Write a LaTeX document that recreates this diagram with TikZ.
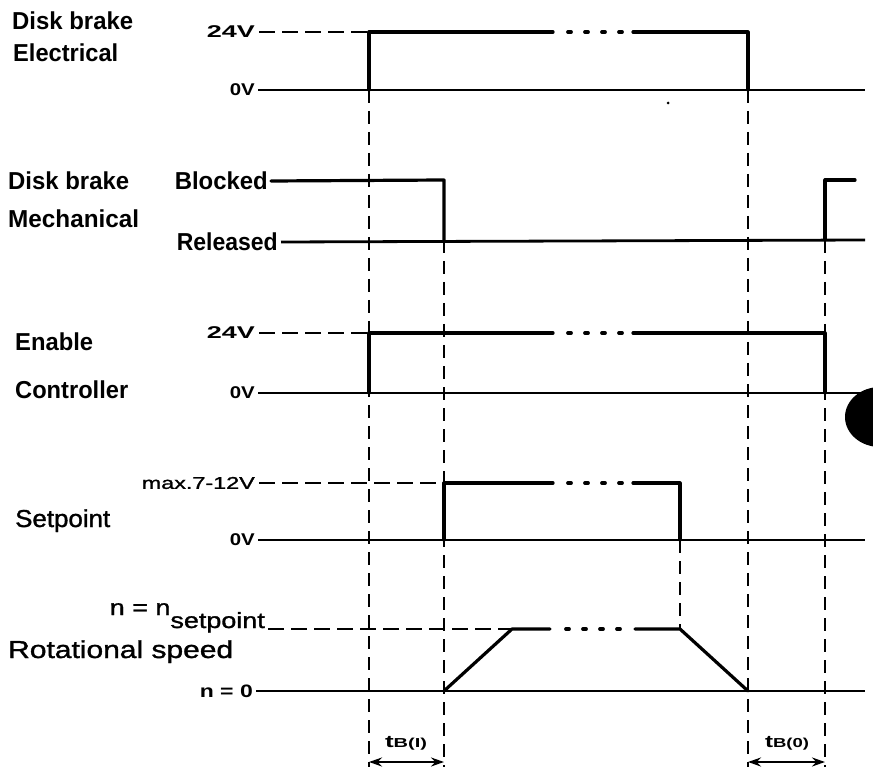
\documentclass[tikz,border=0pt]{standalone}
\usepackage{fontspec}
\setmainfont{Liberation Sans}
\newfontfamily\medfont{Liberation Sans}[FakeBold=1.2]
\usepackage{graphicx}
\usetikzlibrary{arrows.meta}
\newcommand\fitw[2]{\resizebox{#1}{\height}{#2}}
\begin{document}
\begin{tikzpicture}[x=1pt,y=-1pt,
  lab/.style={inner sep=0pt, font=\fontsize{24.5}{24.5}\selectfont\bfseries},
  labr/.style={inner sep=0pt, font=\fontsize{24.5}{24.5}\medfont},
  ax/.style={inner sep=0pt, font=\fontsize{17}{17}\selectfont\bfseries},
  axr/.style={inner sep=0pt, font=\fontsize{17}{17}\medfont},
  sig/.style={line width=3.2pt, line cap=round, line join=round},
  base/.style={line width=2.8pt},
  vdash/.style={line width=2.8pt, dash pattern=on 13pt off 8pt},
  hdash/.style={line width=2.8pt, dash pattern=on 16pt off 7pt},
  dotsl/.style={line width=3.8pt, dash pattern=on 3pt off 14pt, line cap=round},
  dim/.style={line width=2.6pt, {Stealth[length=13pt,width=9pt]}-{Stealth[length=13pt,width=9pt]}},
  tb/.style={inner sep=0pt, font=\bfseries},
]
\fill[white] (0,0) rectangle (873,767);
\useasboundingbox (0,0) rectangle (873,767);

% left labels
\node[lab, anchor=base west] (db1) at (12,30) {\fitw{121pt}{Disk brake}};
\node[lab, anchor=base west] (el) at (13,62) {\fitw{105pt}{Electrical}};
\node[lab, anchor=base west] (db2) at (8,190) {\fitw{121pt}{Disk brake}};
\node[lab, anchor=base west] (me) at (8,228) {\fitw{131pt}{Mechanical}};
\node[lab, anchor=base west] (en) at (15,350) {\fitw{78pt}{Enable}};
\node[lab, anchor=base west] (co) at (15,398) {\fitw{113pt}{Controller}};
\node[labr, anchor=base west] (sp) at (15,527) {\fitw{95pt}{Setpoint}};
\node[labr, anchor=base west] (rs) at (8,658) {\fitw{225pt}{Rotational speed}};

% level labels
\node[ax, anchor=east] (e24) at (255,32) {\fitw{48pt}{24V}};
\node[ax, anchor=east] (e0) at (255,90) {\fitw{25pt}{0V}};
\node[lab, anchor=east] (blk) at (268,181) {\fitw{93pt}{Blocked}};
\node[lab, anchor=east] (rel) at (278,242) {\fitw{101pt}{Released}};
\node[ax, anchor=east] (n24) at (255,333) {\fitw{48pt}{24V}};
\node[ax, anchor=east] (n0) at (255,393) {\fitw{25pt}{0V}};
\node[axr, anchor=east] (smax) at (255,483) {\fitw{113pt}{max.7-12V}};
\node[ax, anchor=east] (s0) at (255,540) {\fitw{25pt}{0V}};
\node[inner sep=0pt, font=\fontsize{22}{22}\medfont, anchor=base east] (nset) at (265,615) {\fitw{155pt}{n = n\raisebox{-13pt}{setpoint}}};
\node[inner sep=0pt, anchor=east, font=\fontsize{18}{18}\selectfont\bfseries] (nz) at (253,691) {\fitw{53pt}{n = 0}};

% vertical dashed guide lines
\draw[vdash] (369,90) -- (369,767);
\draw[vdash] (444,240) -- (444,767);
\draw[vdash] (748,90) -- (748,767);
\draw[vdash] (825,240) -- (825,767);
\draw[vdash] (680,540) -- (680,629);

% Disk brake electrical
\draw[hdash] ([xshift=4pt]e24.east) -- (369,32);
\draw[sig] (369,90) -- (369,32) -- (553,32);
\draw[dotsl] (568,32) -- (622,32);
\draw[sig] (633,32) -- (748,32) -- (748,90);
\draw[base] ([xshift=3pt]e0.east) -- (865,90);

% Disk brake mechanical
\draw[sig] ([xshift=3pt]blk.east) -- (444,180) -- (444,240);
\draw[base] ([xshift=3pt]rel.east) -- (865,240);
\draw[sig] (825,240) -- (825,180) -- (855,180);

% Enable controller
\draw[hdash] ([xshift=4pt]n24.east) -- (369,333);
\draw[sig] (369,393) -- (369,333) -- (553,333);
\draw[dotsl] (568,333) -- (622,333);
\draw[sig] (633,333) -- (825,333) -- (825,393);
\draw[base] ([xshift=3pt]n0.east) -- (865,393);

% Setpoint
\draw[hdash] ([xshift=4pt]smax.east) -- (444,483);
\draw[sig] (444,540) -- (444,483) -- (553,483);
\draw[dotsl] (568,483) -- (622,483);
\draw[sig] (633,483) -- (680,483) -- (680,540);
\draw[base] ([xshift=3pt]s0.east) -- (865,540);

% Rotational speed
\draw[hdash] (268,629) -- (512,629);
\draw[sig] (444,691) -- (512,629) -- (550,629);
\draw[dotsl] (566,629) -- (620,629);
\draw[sig] (635,629) -- (680,629) -- (748,691);
\draw[base] ([xshift=3pt]nz.east) -- (865,691);

% brake times
\draw[dim] (369,762) -- (444,762);
\draw[dim] (748,762) -- (825,762);
\node[tb] (tb1) at (406,743) {\fitw{42pt}{{\fontsize{17}{17}\selectfont t}{\fontsize{13}{13}\selectfont B(I)}}};
\node[tb] (tb0) at (787,743) {\fitw{44pt}{{\fontsize{17}{17}\selectfont t}{\fontsize{13}{13}\selectfont B(0)}}};

% scan marks
\fill (880,417) ellipse [x radius=35pt, y radius=30pt];
\fill (668,103) circle [radius=1.5pt];
\end{tikzpicture}
\end{document}
